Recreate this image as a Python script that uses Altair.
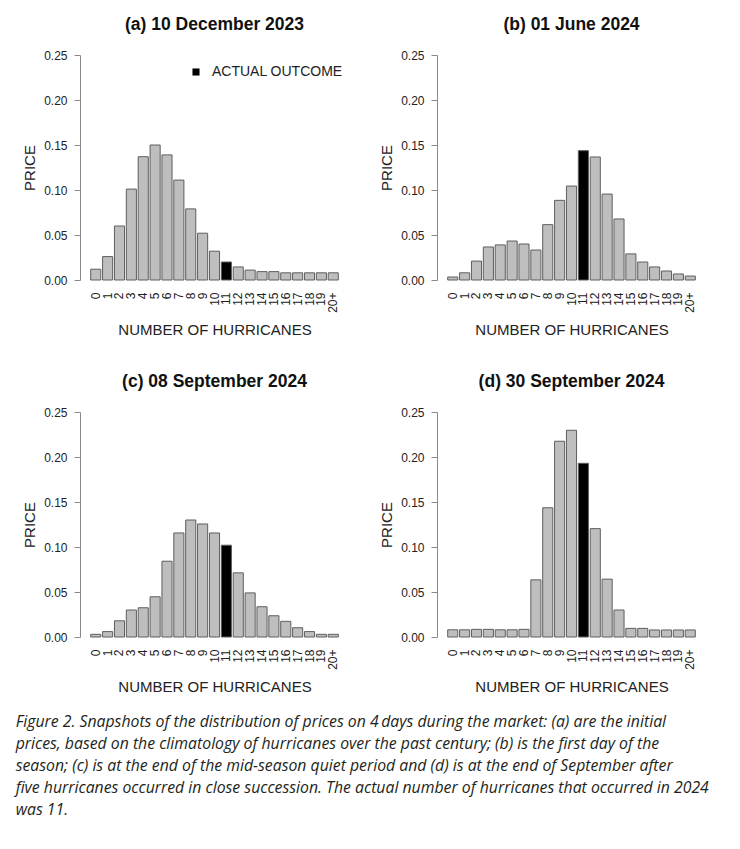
import altair as alt
import pandas as pd

categories = [str(i) for i in range(20)] + ["20+"]
actual_outcome = "11"

panel_titles = [
    "(a) 10 December 2023",
    "(b) 01 June 2024",
    "(c) 08 September 2024",
    "(d) 30 September 2024",
]

prices_a = [0.012, 0.026, 0.060, 0.101, 0.137, 0.150, 0.139, 0.111, 0.079, 0.052,
            0.032, 0.020, 0.0145, 0.011, 0.0093, 0.0093, 0.008, 0.008, 0.008, 0.008, 0.008]
prices_b = [0.0033, 0.008, 0.021, 0.0367, 0.039, 0.0433, 0.040, 0.0333, 0.0615, 0.0885,
            0.1044, 0.1437, 0.1367, 0.0955, 0.0678, 0.029, 0.020, 0.0145, 0.010, 0.0067, 0.0044]
prices_c = [0.003, 0.006, 0.018, 0.030, 0.0325, 0.0447, 0.0842, 0.1156, 0.130, 0.1256,
            0.1156, 0.102, 0.0713, 0.049, 0.0336, 0.0236, 0.0174, 0.0103, 0.006, 0.003, 0.003]
prices_d = [0.008, 0.008, 0.0085, 0.0085, 0.008, 0.008, 0.0085, 0.0635, 0.1436, 0.2175,
            0.2297, 0.193, 0.1204, 0.0643, 0.030, 0.0096, 0.0096, 0.0078, 0.0078, 0.0078, 0.0078]

caption_lines = [
    "Figure 2. Snapshots of the distribution of prices on 4\u2009days during the market: (a) are the initial",
    "prices, based on the climatology of hurricanes over the past century; (b) is the first day of the",
    "season; (c) is at the end of the mid-season quiet period and (d) is at the end of September after",
    "five hurricanes occurred in close succession. The actual number of hurricanes that occurred in 2024",
    "was 11.",
]

FONT = "Liberation Sans"
PW, PH = 269, 225


def make_df(values):
    return pd.DataFrame({
        "cat": categories,
        "price": values,
        "outcome": ["ACTUAL OUTCOME" if c == actual_outcome else "OTHER" for c in categories],
    })


def panel(values, title):
    return alt.Chart(make_df(values)).mark_bar(stroke="#5e5e5e", strokeWidth=1).encode(
        x=alt.X("cat:O", sort=categories,
                scale=alt.Scale(paddingInner=0.15, paddingOuter=0.9),
                axis=alt.Axis(title="NUMBER OF HURRICANES", labelAngle=270, labelPadding=12,
                              labelOverlap=False,
                              domain=False, ticks=False, labelFontSize=12, labelColor="#222222",
                              labelFont=FONT, titleFont=FONT, titleFontSize=15,
                              titleFontWeight="normal", titleColor="#222222", titlePadding=10)),
        y=alt.Y("price:Q", scale=alt.Scale(domain=[0, 0.25], nice=False),
                axis=alt.Axis(title="PRICE", values=[0, 0.05, 0.10, 0.15, 0.20, 0.25], format=".2f",
                              grid=False, domainColor="#8a8a8a", tickColor="#8a8a8a", tickSize=6,
                              labelPadding=7, labelFontSize=12, labelColor="#222222", labelFont=FONT,
                              titleFont=FONT, titleFontSize=15, titleFontWeight="normal",
                              titleColor="#222222", titlePadding=6)),
        color=alt.Color("outcome:N",
                        scale=alt.Scale(domain=["ACTUAL OUTCOME", "OTHER"], range=["#000000", "#bebebe"]),
                        legend=alt.Legend(title=None, values=["ACTUAL OUTCOME"], orient="none",
                                          legendX=109, legendY=10, symbolType="square",
                                          symbolSize=50, symbolStrokeWidth=0, labelFont=FONT,
                                          labelFontSize=14, labelColor="#222222", labelOffset=9,
                                          padding=0)),
    ).properties(
        width=PW, height=PH,
        title=alt.TitleParams(title, font=FONT, fontSize=17.5, fontWeight="bold", color="#111111",
                              anchor="middle", offset=16),
    )


row1 = alt.hconcat(panel(prices_a, panel_titles[0]), panel(prices_b, panel_titles[1]), spacing=30)
row2 = alt.hconcat(panel(prices_c, panel_titles[2]), panel(prices_d, panel_titles[3]), spacing=30)

chart = alt.vconcat(row1, row2, spacing=34).properties(
    padding={"left": 7, "top": 7, "right": 5, "bottom": 5},
    title=alt.TitleParams(caption_lines, orient="bottom", anchor="start", font="Open Sans",
                          fontSize=15.8, fontStyle="italic", fontWeight="normal", color="#231f20",
                          lineHeight=22, offset=21, dx=-7),
).configure(background="white").configure_view(strokeWidth=0, stroke=None)

chart.save("out.html", embed_options={"renderer": "svg", "actions": False})
